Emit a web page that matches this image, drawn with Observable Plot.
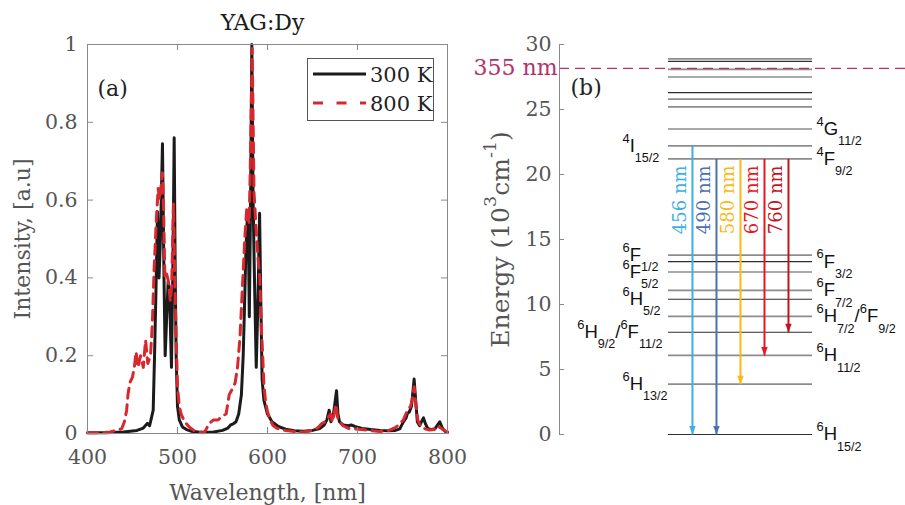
<!DOCTYPE html>
<html><head><meta charset="utf-8">
<script src="https://cdn.jsdelivr.net/npm/d3@7"></script>
<script src="https://cdn.jsdelivr.net/npm/@observablehq/plot@0.6"></script>
<style>
body{margin:0;background:#fff}
#wrap{position:relative;width:905px;height:505px;display:flex;overflow:hidden;background:#fff}
#wrap svg{overflow:visible;flex:none}
</style></head><body><div id="wrap"></div>
<script>
// ---------- panel (a): emission spectra ----------
const wl300 = [400,420,440,455,462,466.5,469,472,473,474.5,476,477.8,479.5,481,483.3,485,486.3,488,489.6,491.5,493.3,495,496.3,497.5,498.5,500,502,505.5,510,515,525,540,550,556,559,562,565,568,571,573,574.5,576,577.5,578.5,579.8,581,582.6,584,585.5,587.5,589.5,591.2,592.5,594,596,600,605,612,620,630,640,650,658,663,666,668.5,670.5,673,675,676.7,678.3,680,684,690,693,697,705,715,725,735,742,747,751,754,755.5,757.5,760,762.9,764.5,766.5,769,771,773.3,775.5,778,782,786,789,791.4,794,797,800];
const int300 = [0.002,0.002,0.004,0.008,0.014,0.026,0.02,0.05,0.06,0.2,0.36,0.57,0.4,0.5,0.745,0.4,0.2,0.3,0.39,0.33,0.17,0.45,0.76,0.4,0.2,0.07,0.035,0.017,0.01,0.006,0.003,0.004,0.008,0.014,0.022,0.025,0.03,0.05,0.1,0.2,0.33,0.47,0.55,0.56,0.3,0.55,1.0,0.6,0.4,0.17,0.35,0.566,0.35,0.14,0.085,0.05,0.03,0.018,0.011,0.007,0.006,0.008,0.013,0.022,0.035,0.06,0.03,0.045,0.08,0.11,0.05,0.03,0.022,0.02,0.022,0.018,0.013,0.01,0.008,0.007,0.008,0.012,0.03,0.04,0.052,0.055,0.07,0.14,0.09,0.03,0.02,0.03,0.04,0.025,0.013,0.01,0.012,0.022,0.03,0.015,0.006,0.003];
const wl800 = [400,415,425,432,438,441,443.5,445,447,450,452,454,456,459,462,464.5,467,470,472,474,476.5,478.5,480,481.5,483.3,484.5,486,488,490,492,493.5,495.5,497,498.5,500,502,504,508,513,518,525,530,535,540,545,550,554,557.5,561,564,566.7,569.5,572,575,577,579.6,581,583,585,586.5,588,589.5,591.5,593,594.5,596,598,600,603,606,610,615,620,630,640,650,656,660,664,667,670,672,674,676,678,680,684,690,696,705,715,725,735,742,747,751,755.5,759,761,763,765,767,770,775,780,785,789,792,796,800];
const int800 = [0.002,0.002,0.004,0.008,0.012,0.03,0.06,0.1,0.13,0.145,0.17,0.21,0.17,0.2,0.17,0.24,0.18,0.2,0.28,0.42,0.55,0.63,0.6,0.63,0.67,0.58,0.4,0.41,0.39,0.34,0.38,0.59,0.4,0.25,0.12,0.07,0.05,0.03,0.017,0.008,0.003,0.003,0.025,0.035,0.035,0.045,0.05,0.1,0.115,0.13,0.17,0.25,0.37,0.51,0.58,0.54,0.7,0.99,0.62,0.56,0.5,0.45,0.4,0.28,0.21,0.125,0.08,0.056,0.035,0.021,0.014,0.01,0.008,0.005,0.004,0.008,0.015,0.025,0.03,0.04,0.05,0.03,0.05,0.075,0.04,0.03,0.02,0.013,0.012,0.01,0.007,0.005,0.008,0.015,0.025,0.035,0.06,0.07,0.09,0.12,0.07,0.035,0.02,0.012,0.009,0.01,0.02,0.015,0.008,0.004];
const seriesNames = ["300 K", "800 K"];
const wlTicks = [400, 500, 600, 700, 800];
const intTicks = [0, 0.2, 0.4, 0.6, 0.8, 1];

// ---------- panel (b): Dy3+ energy levels (10^3 cm^-1) ----------
const levelE = [28.9, 28.7, 28.08, 27.5, 26.3, 25.8, 25.2, 23.5, 22.2, 21.2, 13.8, 13.3, 12.5, 11.08, 10.4, 9.08, 7.87, 6.08, 3.87, 0];
const darkLevelE = [28.7, 26.3, 13.3, 10.4, 7.87, 0];
const rightLabelE = [23.5, 21.2, 13.3, 11.08, 9.08, 6.08, 0];
const rightLabelTxt = ["{4}G[11/2]", "{4}F[9/2]", "{6}F[3/2]", "{6}F[7/2]", "{6}H[7/2]/{6}F[9/2]", "{6}H[11/2]", "{6}H[15/2]"];
const leftLabelE = [22.2, 13.8, 12.5, 10.4, 7.87, 3.87];
const leftLabelTxt = ["{4}I[15/2]", "{6}F[1/2]", "{6}F[5/2]", "{6}H[5/2]", "{6}H[9/2]/{6}F[11/2]", "{6}H[13/2]"];
const transNm = [456, 490, 580, 670, 760];
const transFromE = [22.2, 21.2, 21.2, 21.2, 21.2];
const transToE = [0, 0, 3.87, 6.08, 7.87];
const energyTicks = [0, 5, 10, 15, 20, 25, 30];
const excitationNm = 355;

const serif = "DejaVu Serif, serif";
const sans = "Liberation Sans, Arial, sans-serif";
const axisGray = "#8a8a8a";
const textGray = "#555";

// ---------- build panel (a) ----------
const s300 = wl300.map((w, i) => ({w, v: int300[i], s: seriesNames[0]}));
const s800 = wl800.map((w, i) => ({w, v: int800[i], s: seriesNames[1]}));
const A = {width: 460, height: 505, ml: 87, mr: 13, mt: 44, mb: 72};
const fwA = A.width - A.ml - A.mr, fhA = A.height - A.mt - A.mb;

const plotA = Plot.plot({
  width: A.width, height: A.height,
  marginLeft: A.ml, marginRight: A.mr, marginTop: A.mt, marginBottom: A.mb,
  style: {fontFamily: serif, fontSize: "20.5px", color: textGray, background: "transparent", overflow: "visible"},
  x: {domain: [400, 800]},
  y: {domain: [0, 1]},
  marks: [
    Plot.line(s300, {x: "w", y: "v", stroke: "#1b1b1b", strokeWidth: 3, strokeLinejoin: "round"}),
    Plot.line(s800, {x: "w", y: "v", stroke: "#d8282d", strokeWidth: 3, strokeDasharray: "10,6.5"}),
    Plot.frame({stroke: axisGray, strokeWidth: 1}),
    Plot.ruleX(wlTicks, {stroke: axisGray, insetTop: fhA - 6}),
    Plot.ruleX(wlTicks, {stroke: axisGray, insetBottom: fhA - 6}),
    Plot.ruleY(intTicks, {stroke: axisGray, insetRight: fwA - 6}),
    Plot.ruleY(intTicks, {stroke: axisGray, insetLeft: fwA - 6}),
    Plot.axisX({ticks: wlTicks, tickSize: 0, tickPadding: 16, label: null, tickFormat: d => String(d)}),
    Plot.axisY({ticks: intTicks, tickSize: 0, tickPadding: 10, label: null, tickFormat: d => String(d)}),
    Plot.text(["Intensity, [a.u]"], {frameAnchor: "left", textAnchor: "middle", lineAnchor: "middle", rotate: -90, dx: -64.5, fontSize: 22, fill: textGray}),
    Plot.text(["Wavelength, [nm]"], {frameAnchor: "bottom", lineAnchor: "middle", dy: 59, fontSize: 22, fill: textGray}),
    Plot.text(["YAG:Dy"], {frameAnchor: "top", lineAnchor: "middle", dy: -22, dx: -5, fontSize: 22, fill: "#1a1a1a"}),
    Plot.text(["(a)"], {frameAnchor: "top-left", lineAnchor: "middle", dx: 10, dy: 44, textAnchor: "start", fontSize: 22, fill: "#222"})
  ]
});

// legend (a)
{
  const svg = d3.select(plotA);
  const g = svg.append("g").attr("font-family", serif).attr("font-size", 21).attr("text-anchor", "start");
  g.append("rect").attr("x", 307.5).attr("y", 58.5).attr("width", 126).attr("height", 62)
    .attr("fill", "#fff").attr("stroke", "#444").attr("stroke-width", 0.9);
  const rows = [{name: seriesNames[0], stroke: "#1b1b1b", dash: null, y: 74},
                {name: seriesNames[1], stroke: "#d8282d", dash: "10,13.5", y: 103}];
  for (const r of rows) {
    const l = g.append("line").attr("x1", 313).attr("x2", 366).attr("y1", r.y).attr("y2", r.y)
      .attr("stroke", r.stroke).attr("stroke-width", 3);
    if (r.dash) l.attr("stroke-dasharray", r.dash);
    g.append("text").attr("x", 370).attr("y", r.y).attr("dy", "0.36em").attr("fill", "#222").text(r.name);
  }
}

// ---------- build panel (b) ----------
const B = {width: 445, height: 505, ml: 99, mr: 0, mt: 44, mb: 71};
const fwB = B.width - B.ml - B.mr;
const xDomB = [-4.54, 9.875];   // level lines span columns 0..6, arrows in columns 1..5
const levels = levelE.map(e => ({e, dark: darkLevelE.includes(e)}));
const rightLabels = rightLabelE.map((e, i) => ({e, t: rightLabelTxt[i]}));
const leftLabels = leftLabelE.map((e, i) => ({e, t: leftLabelTxt[i], compound: leftLabelTxt[i].includes("/{")}));
const trans = transNm.map((nm, i) => ({nm, col: i + 1, from: transFromE[i], to: transToE[i], label: `${nm} nm`}));
const excE = 1e4 / excitationNm;
const labelTopE = transFromE[1] - 0.5;
const headSymbol = {draw(ctx) { const w = 3.2, h = 8.5; ctx.moveTo(0, 0); ctx.lineTo(-w, -h); ctx.lineTo(w, -h); ctx.closePath(); }};

const plotB = Plot.plot({
  width: B.width, height: B.height,
  marginLeft: B.ml, marginRight: B.mr, marginTop: B.mt, marginBottom: B.mb,
  style: {fontFamily: serif, fontSize: "20.5px", color: textGray, background: "transparent", overflow: "visible"},
  x: {domain: xDomB, axis: null},
  y: {domain: [0, 30]},
  color: {domain: transNm, range: ["#3eaee6", "#4a70b5", "#fbb914", "#e8161d", "#c2141f"]},
  marks: [
    Plot.ruleY(levels, {y: "e", x1: () => 0, x2: () => 6,
      stroke: d => d.dark ? "#2e2e2e" : "#8c8c8c", strokeWidth: d => d.dark ? 1.1 : 1.7}),
    Plot.ruleY([excE], {y: d => d, stroke: "#b8306a", strokeWidth: 1.2, strokeDasharray: "10,6"}),
    Plot.link(trans, {x1: "col", x2: "col", y1: "from", y2: "to", stroke: "nm", strokeWidth: 2}),
    Plot.dot(trans, {x: "col", y: "to", fill: "nm", stroke: null, symbol: headSymbol, r: 4}),
    Plot.text(trans, {x: "col", y: () => labelTopE, text: "label", fill: "nm", rotate: -90, textAnchor: "end", lineAnchor: "middle", dx: -12, fontSize: 18, fontFamily: serif}),
    Plot.ruleX([xDomB[0]], {x: d => d, y1: () => 0, y2: () => 30, stroke: axisGray}),
    Plot.ruleY(energyTicks, {y: d => d, stroke: axisGray, insetRight: fwB - 5}),
    Plot.axisY({ticks: energyTicks, tickSize: 0, tickPadding: 8, label: null, tickFormat: d => String(d)}),
    Plot.text([excE], {y: d => d, frameAnchor: "left", textAnchor: "end", lineAnchor: "middle", dx: -2, text: () => `${excitationNm} nm`, fill: "#b8306a", fontSize: 22}),
    Plot.text(rightLabels, {x: () => 6, y: "e", text: "t", textAnchor: "start", lineAnchor: "middle", dx: 4, fontFamily: sans, fontSize: 18.5, fill: "#111"}),
    Plot.text(leftLabels.filter(d => !d.compound), {x: () => 0, y: "e", text: "t", textAnchor: "start", lineAnchor: "middle", dx: -46, fontFamily: sans, fontSize: 18.5, fill: "#111"}),
    Plot.text(leftLabels.filter(d => d.compound), {x: () => 0, y: "e", text: "t", textAnchor: "end", lineAnchor: "middle", dx: -6, fontFamily: sans, fontSize: 18.5, fill: "#111"}),
    Plot.text(["Energy (10{3}cm{-1})"], {frameAnchor: "left", textAnchor: "middle", lineAnchor: "middle", rotate: -90, dx: -59, fontSize: 25, fill: textGray}),
    Plot.text(["(b)"], {frameAnchor: "top-left", lineAnchor: "middle", dx: 11, dy: 43, textAnchor: "start", fontSize: 22, fill: "#222"})
  ]
});

const wrap = document.getElementById("wrap");
wrap.appendChild(plotA);
wrap.appendChild(plotB);

// superscript {..} / subscript [..] markup -> tspans
function richify(el) {
  const s = el.textContent;
  const fs = parseFloat(getComputedStyle(el).fontSize) || 18;
  el.textContent = "";
  const re = /\{([^}]*)\}|\[([^\]]*)\]|([^{\[]+)/g;
  let cur = 0, m;
  while ((m = re.exec(s))) {
    let str, size = null, off = 0;
    if (m[1] != null) { str = m[1]; size = fs * 0.7; off = -fs * 0.5; }
    else if (m[2] != null) { str = m[2]; size = fs * 0.68; off = fs * 0.55; }
    else { str = m[3]; }
    const ts = document.createElementNS("http://www.w3.org/2000/svg", "tspan");
    ts.textContent = str;
    if (size) ts.setAttribute("font-size", size.toFixed(2));
    const dy = off - cur;
    if (dy) ts.setAttribute("dy", dy.toFixed(2));
    cur = off;
    el.appendChild(ts);
  }
}
plotB.querySelectorAll("text").forEach(t => { if (/[{\[]/.test(t.textContent)) richify(t); });
</script>
</body></html>
